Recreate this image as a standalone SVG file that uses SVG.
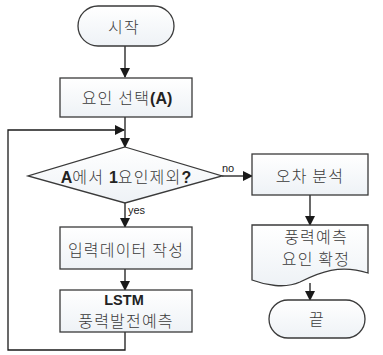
<svg xmlns="http://www.w3.org/2000/svg" width="383" height="355" viewBox="0 0 383 355">
<defs>
<linearGradient id="g" x1="0" y1="0" x2="0" y2="1">
<stop offset="0" stop-color="#ffffff"/>
<stop offset="1" stop-color="#eef2f6"/>
</linearGradient>
<marker id="ar" markerWidth="10" markerHeight="10" refX="9" refY="5" orient="auto" markerUnits="userSpaceOnUse">
<path d="M0,0 L10,5 L0,10 z" fill="#1a1a1a"/>
</marker>
<style>
.s{fill:url(#g);stroke:#3a3a3a;stroke-width:1.3}
.t{font-family:"Noto Sans CJK KR","Noto Sans",sans-serif;font-size:16px;font-weight:300;letter-spacing:1.2px;fill:#3a3a3a;text-anchor:middle}
.b{font-family:"Liberation Sans",Arial,sans-serif;font-weight:bold;letter-spacing:0;fill:#222}
.l{font-family:"Liberation Sans",Arial,sans-serif;font-size:11px;fill:#222}
.c{fill:none;stroke:#1a1a1a;stroke-width:1.3}
</style>
</defs>
<g id="connectors">
<line class="c" x1="125" y1="46" x2="125" y2="77" marker-end="url(#ar)"/>
<line class="c" x1="125" y1="117" x2="125" y2="147" marker-end="url(#ar)"/>
<polyline class="c" points="125,332 125,350 8,350 8,130 124,130" marker-end="url(#ar)"/>
<line class="c" x1="125" y1="203" x2="125" y2="227" marker-end="url(#ar)"/>
<line class="c" x1="125" y1="269" x2="125" y2="290" marker-end="url(#ar)"/>
<line class="c" x1="222" y1="176" x2="252" y2="176" marker-end="url(#ar)"/>
<line class="c" x1="310" y1="195" x2="310" y2="225" marker-end="url(#ar)"/>
<line class="c" x1="310" y1="283" x2="310" y2="300" marker-end="url(#ar)"/>
<text class="l" x="222" y="172">no</text>
<text class="l" x="128" y="214">yes</text>
</g>
<g id="start">
<rect class="s" x="78" y="6" width="96" height="40" rx="20"/>
<text class="t" x="124" y="33">시작</text>
</g>
<g id="select">
<rect class="s" x="60" y="78" width="132" height="39"/>
<text class="t" x="127" y="104">요인 선택<tspan class="b">(A)</tspan></text>
</g>
<g id="decision">
<polygon class="s" points="125,147 222,176 125,203 28,176"/>
<text class="t" x="126" y="183"><tspan class="b">A</tspan>에서 <tspan class="b">1</tspan>요인제외<tspan class="b">?</tspan></text>
</g>
<g id="input">
<rect class="s" x="60" y="227" width="132" height="42"/>
<text class="t" x="126" y="256">입력데이터 작성</text>
</g>
<g id="lstm">
<rect class="s" x="60" y="290" width="132" height="42"/>
<text class="t b" x="124" y="305" style="font-size:14.5px">LSTM</text>
<text class="t" x="126" y="327">풍력발전예측</text>
</g>
<g id="error">
<rect class="s" x="252" y="154" width="116" height="41"/>
<text class="t" x="310" y="182">오차 분석</text>
</g>
<g id="document">
<path class="s" d="M252,225 H368 V273 C340,264 320,272 300,282 C285,289 265,285 252,280 Z"/>
<text class="t" x="316" y="243">풍력예측</text>
<text class="t" x="316" y="265">요인 확정</text>
</g>
<g id="end">
<rect class="s" x="269" y="300" width="96" height="38" rx="19"/>
<text class="t" x="317" y="325">끝</text>
</g>
</svg>
